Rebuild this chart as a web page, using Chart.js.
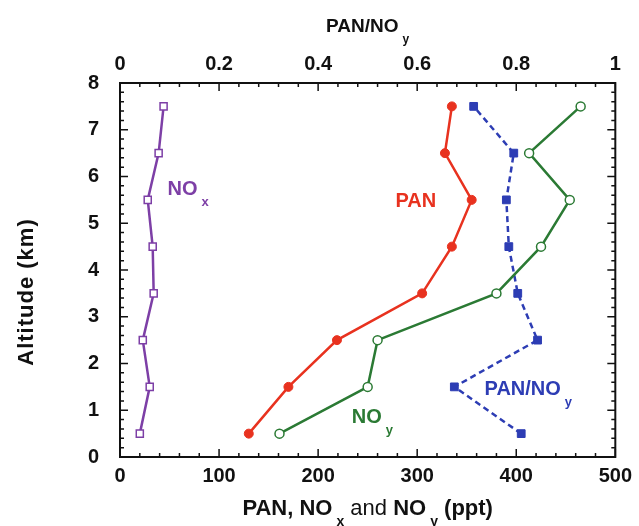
<!DOCTYPE html>
<html>
<head>
<meta charset="utf-8">
<script src="https://cdn.jsdelivr.net/npm/chart.js@4.4.0/dist/chart.umd.min.js"></script>
<style>
  html, body { margin: 0; padding: 0; background: #fff; }
  #wrap { width: 639px; height: 526px; position: relative; }
</style>
</head>
<body>
<div id="wrap"><canvas id="chart"></canvas></div>
<script>
// values, lowest level first
const altitudes = [0.5, 1.5, 2.5, 3.5, 4.5, 5.5, 6.5, 7.5];
const noxPpt = [20, 30, 23, 34, 33, 28, 39, 44];
const panPpt = [130, 170, 219, 305, 335, 355, 328, 335];
const noyPpt = [161, 250, 260, 380, 425, 454, 413, 465];
const panNoyRatio = [0.81, 0.675, 0.843, 0.803, 0.785, 0.78, 0.795, 0.714];

const pptTicks = [0, 100, 200, 300, 400, 500];
const ratioTicks = [0, 0.2, 0.4, 0.6, 0.8, 1];
const altTicks = [0, 1, 2, 3, 4, 5, 6, 7, 8];

const PURPLE = '#7d3fa6';
const RED = '#e8321f';
const GREEN = '#2b7a34';
const BLUE = '#2d3db4';
const FONT = '"Liberation Sans", Arial, Helvetica, sans-serif';

function pts(xs) {
  return xs.map((v, i) => ({ x: v, y: altitudes[i] }));
}

// text with subscripts: parts are [text, kind] with kind 'b', 'r' or 's'
function drawRich(ctx, parts, x, y, color, align, size) {
  size = size || 20;
  const sub = Math.round(size * 0.64);
  const fontOf = k => k === 's' ? 'bold ' + sub + 'px ' + FONT : (k === 'r' ? size + 'px ' + FONT : 'bold ' + size + 'px ' + FONT);
  let total = 0;
  parts.forEach(p => {
    ctx.font = fontOf(p[1]);
    total += ctx.measureText(p[0]).width + (p[1] === 's' ? 4 : 0);
  });
  let cx = align === 'center' ? x - total / 2 : x;
  ctx.fillStyle = color;
  ctx.textAlign = 'left';
  ctx.textBaseline = 'alphabetic';
  parts.forEach(p => {
    ctx.font = fontOf(p[1]);
    if (p[1] === 's') {
      ctx.fillText(p[0], cx + 4, y + 11);
      cx += ctx.measureText(p[0]).width + 4;
    } else {
      ctx.fillText(p[0], cx, y);
      cx += ctx.measureText(p[0]).width;
    }
  });
}

// series labels, anchored in data units
const seriesLabels = [
  { parts: [['NO', 'b'], ['x', 's']], x: 48, y: 5.6, color: PURPLE, axis: 'x' },
  { parts: [['PAN', 'b']], x: 278, y: 5.35, color: RED, axis: 'x' },
  { parts: [['NO', 'b'], ['y', 's']], x: 234, y: 0.73, color: GREEN, axis: 'x' },
  { parts: [['PAN/NO', 'b'], ['y', 's']], x: 368, y: 1.33, color: BLUE, axis: 'x' }
];

const frameTicks = {
  id: 'frameTicks',
  beforeDatasetsDraw(chart) {
    const { ctx, chartArea: a, scales } = chart;
    ctx.save();
    ctx.strokeStyle = '#111';
    ctx.lineWidth = 1.5;
    ctx.beginPath();
    for (let v = 0; v <= 500.01; v += 20) {
      const px = scales.x.getPixelForValue(v);
      const len = (Math.round(v) % 100 === 0) ? 8 : 4;
      ctx.moveTo(px, a.bottom); ctx.lineTo(px, a.bottom - len);
    }
    for (let i = 0; i <= 25; i++) {
      const px = scales.x2.getPixelForValue(i * 0.04);
      const len = (i % 5 === 0) ? 8 : 4;
      ctx.moveTo(px, a.top); ctx.lineTo(px, a.top + len);
    }
    for (let i = 0; i <= 40; i++) {
      const py = scales.y.getPixelForValue(i * 0.2);
      const len = (i % 5 === 0) ? 8 : 4;
      ctx.moveTo(a.left, py); ctx.lineTo(a.left + len, py);
      ctx.moveTo(a.right, py); ctx.lineTo(a.right - len, py);
    }
    ctx.stroke();
    ctx.lineWidth = 2;
    ctx.strokeRect(a.left, a.top, a.right - a.left, a.bottom - a.top);
    ctx.restore();
  },
  afterDraw(chart) {
    const { ctx, chartArea: a, scales } = chart;
    ctx.save();
    seriesLabels.forEach(l => {
      drawRich(ctx, l.parts, scales[l.axis].getPixelForValue(l.x), scales.y.getPixelForValue(l.y), l.color, 'left');
    });
    const midX = (a.left + a.right) / 2;
    drawRich(ctx, [['PAN/NO', 'b'], ['y', 's']], midX, 31.5, '#111', 'center', 19);
    drawRich(ctx, [['PAN, NO', 'b'], ['x', 's'], [' and ', 'r'], ['NO', 'b'], ['y', 's'], [' (ppt)', 'b']], midX, 515, '#111', 'center', 22);
    ctx.translate(33, 292);
    ctx.rotate(-Math.PI / 2);
    ctx.font = 'bold 22px ' + FONT;
    if ('letterSpacing' in ctx) ctx.letterSpacing = '1px';
    ctx.fillStyle = '#111';
    ctx.textAlign = 'center';
    ctx.textBaseline = 'alphabetic';
    ctx.fillText('Altitude (km)', 0, 0);
    ctx.restore();
  }
};

const tickFont = { family: FONT, size: 20, weight: 'bold' };
const noGrid = { display: false, drawTicks: false };

new Chart(document.getElementById('chart'), {
  type: 'scatter',
  data: {
    datasets: [
      {
        label: 'NOx', xAxisID: 'x', data: pts(noxPpt), showLine: true,
        borderColor: PURPLE, borderWidth: 2.5, backgroundColor: '#fff',
        pointStyle: 'rect', pointRadius: 5, pointBorderWidth: 1.5, pointBorderColor: PURPLE, pointBackgroundColor: '#fff'
      },
      {
        label: 'PAN', xAxisID: 'x', data: pts(panPpt), showLine: true,
        borderColor: RED, borderWidth: 2.5,
        pointStyle: 'circle', pointRadius: 4.5, pointBorderWidth: 1, pointBorderColor: RED, pointBackgroundColor: RED
      },
      {
        label: 'NOy', xAxisID: 'x', data: pts(noyPpt), showLine: true,
        borderColor: GREEN, borderWidth: 2.5,
        pointStyle: 'circle', pointRadius: 4.5, pointBorderWidth: 1.5, pointBorderColor: GREEN, pointBackgroundColor: '#fff'
      },
      {
        label: 'PAN/NOy', xAxisID: 'x2', data: pts(panNoyRatio), showLine: true,
        borderColor: BLUE, borderWidth: 2.5, borderDash: [6, 4],
        pointStyle: 'rect', pointRadius: 5.5, pointBorderWidth: 1, pointBorderColor: BLUE, pointBackgroundColor: BLUE
      }
    ]
  },
  options: {
    responsive: true,
    maintainAspectRatio: false,
    animation: false,
    layout: { padding: { left: 0, right: 21, top: 0, bottom: 0 } },
    plugins: { legend: { display: false }, tooltip: { enabled: false } },
    scales: {
      x: {
        type: 'linear', position: 'bottom', min: 0, max: 500,
        afterBuildTicks: s => { s.ticks = pptTicks.map(v => ({ value: v })); },
        afterFit: s => { s.height = 69; },
        grid: noGrid, border: { display: false },
        ticks: { font: tickFont, color: '#111', padding: 7, maxRotation: 0 }
      },
      x2: {
        type: 'linear', position: 'top', min: 0, max: 1,
        afterBuildTicks: s => { s.ticks = ratioTicks.map(v => ({ value: v })); },
        afterFit: s => { s.height = 83; },
        grid: noGrid, border: { display: false },
        ticks: { font: tickFont, color: '#111', padding: 7, maxRotation: 0, callback: v => String(v) }
      },
      y: {
        type: 'linear', position: 'left', min: 0, max: 8,
        afterBuildTicks: s => { s.ticks = altTicks.map(v => ({ value: v })); },
        afterFit: s => { s.width = 120; },
        grid: noGrid, border: { display: false },
        ticks: { font: tickFont, color: '#111', padding: 21 }
      }
    }
  },
  plugins: [frameTicks]
});
</script>
</body>
</html>
